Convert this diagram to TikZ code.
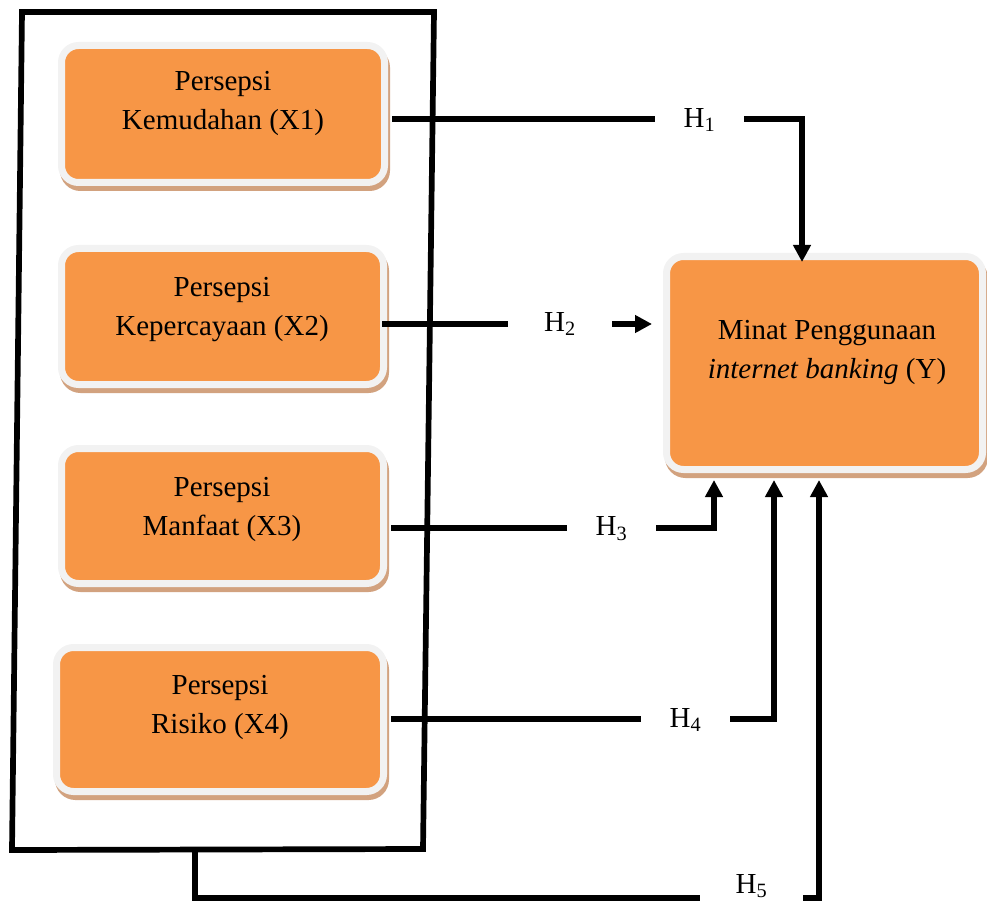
\documentclass[tikz,border=0pt]{standalone}
\usepackage{fontspec}
\setmainfont{Liberation Serif}
\usetikzlibrary{arrows.meta}
\definecolor{boxorange}{HTML}{F79646}
\definecolor{boxrim}{HTML}{F2F2F2}
\definecolor{boxshadow}{HTML}{D2A27F}
\tikzset{
  obox/.style={rectangle, rounded corners=17pt, fill=boxorange, draw=boxrim, line width=7pt,
    preaction={fill=boxshadow, draw=boxshadow, line width=7pt, transform canvas={shift={(2pt,-5pt)}}}},
  tx/.style={align=center, anchor=base, inner sep=0pt, font=\fontsize{29}{39}\selectfont},
  hlab/.style={inner sep=0pt, minimum height=20pt, font=\fontsize{29}{39}\selectfont},
  conn/.style={line width=5.7pt},
  arr/.style={line width=5.7pt, -{Triangle[width=17pt,length=17pt]}},
}
\begin{document}
\begin{tikzpicture}[x=1pt,y=-1pt]
\useasboundingbox (0,0) rectangle (987,901);
% outer frame
\coordinate (tl) at (22,12);
\coordinate (tr) at (434,12);
\coordinate (br) at (423,849);
\coordinate (bl) at (12,850);
\coordinate (b5) at (195,850);
\draw[line width=5.7pt, line join=miter] (tl) -- (tr) -- (br) -- (bl) -- cycle;
% boxes
\node[obox, minimum width=323, minimum height=137] (x1) at (223,114) {};
\node[obox, minimum width=322, minimum height=136] (x2) at (222.5,316.5) {};
\node[obox, minimum width=322, minimum height=135] (x3) at (222.5,516) {};
\node[obox, minimum width=327, minimum height=144] (x4) at (220,719.5) {};
\node[obox, minimum width=316, minimum height=213] (y) at (824.5,363) {};
\node[tx] (x1t) at (223,130) {Persepsi\\Kemudahan (X1)};
\node[tx] (x2t) at (222,335) {Persepsi\\Kepercayaan (X2)};
\node[tx] (x3t) at (222,535) {Persepsi\\Manfaat (X3)};
\node[tx] (x4t) at (220,733) {Persepsi\\Risiko (X4)};
\node[tx] (yt) at (827,378) {Minat Penggunaan\\\textit{internet banking} (Y)};
% hypothesis labels
\node[hlab, minimum width=89] (h1) at (699.5,120) {H\textsubscript{1}};
\node[hlab, minimum width=104] (h2) at (560,324) {H\textsubscript{2}};
\node[hlab, minimum width=89] (h3) at (611.5,529) {H\textsubscript{3}};
\node[hlab, minimum width=89] (h4) at (685.5,720) {H\textsubscript{4}};
\node[hlab, minimum width=103] (h5) at (751.5,886) {H\textsubscript{5}};
% arrow targets and free ends
\coordinate (t1) at (802,262);
\coordinate (t2) at (652,324);
\coordinate (t3) at (714,480);
\coordinate (t4) at (774,480);
\coordinate (t5) at (819,480);
\coordinate (g5a) at (700,898);
\coordinate (g5b) at (803,898);
% connectors
\draw[conn, shorten <=4pt] (x1.east |- 0,119) -- (h1.west |- 0,119);
\draw[arr] (h1.east |- 0,119) -| (t1);
\draw[conn, shorten <=-5pt] (x2.east |- h2.west) -- (h2.west);
\draw[arr] (h2.east) -- (t2);
\draw[conn, shorten <=4pt] (x3.east |- 0,528) -- (h3.west |- 0,528);
\draw[arr] (h3.east |- 0,528) -| (t3);
\draw[conn, shorten <=4pt] (x4.east |- 0,719) -- (h4.west |- 0,719);
\draw[arr] (h4.east |- 0,719) -| (t4);
\draw[conn] (b5) |- (g5a);
\draw[arr] (g5b) -| (t5);
\end{tikzpicture}
\end{document}
